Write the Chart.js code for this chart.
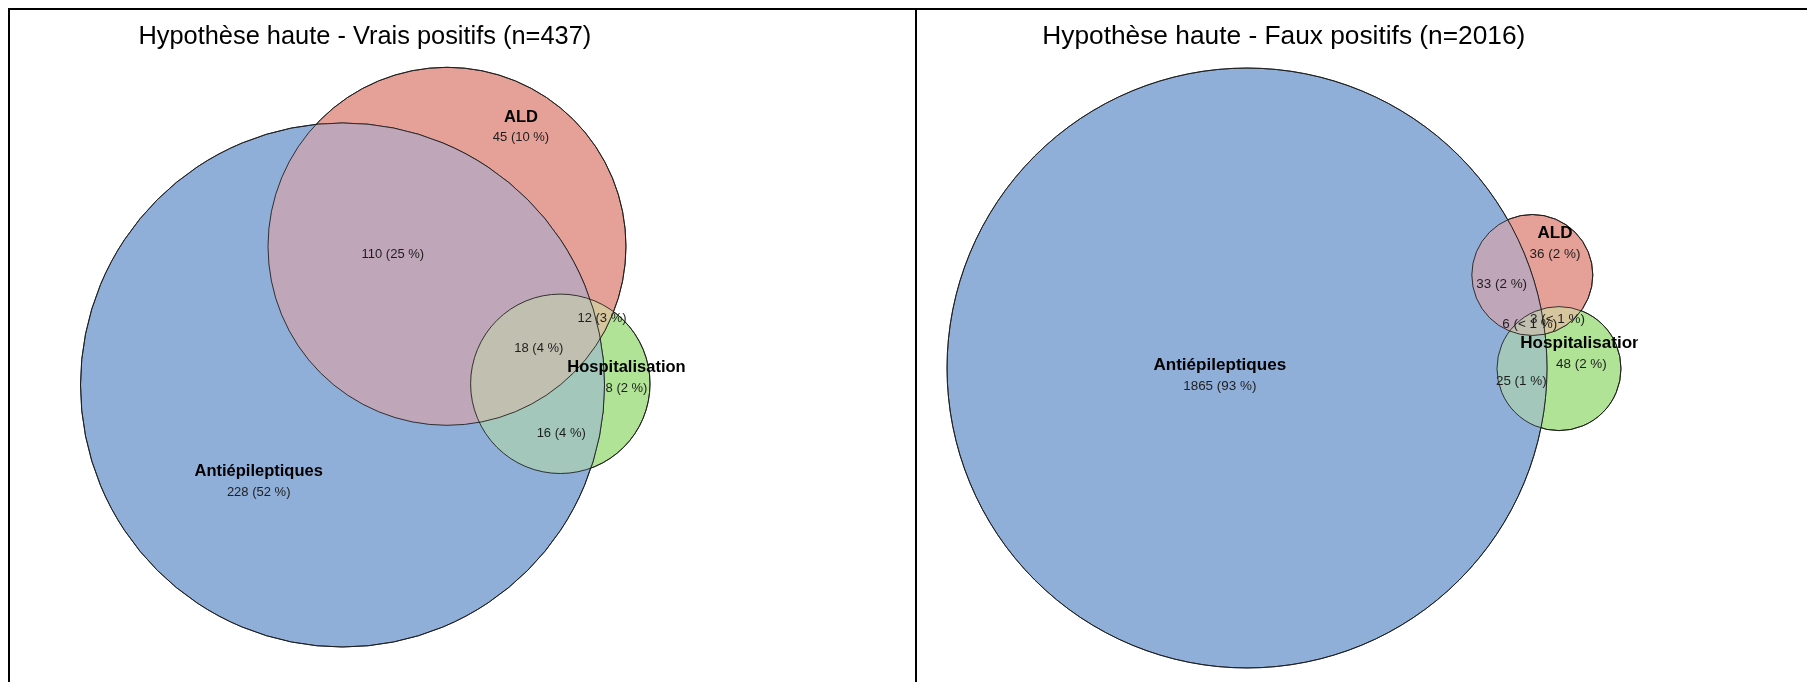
<!DOCTYPE html>
<html>
<head>
<meta charset="utf-8">
<script src="https://cdn.jsdelivr.net/npm/chart.js@4.4.1/dist/chart.umd.min.js"></script>
<style>
  html, body { margin: 0; padding: 0; background: #fff; width: 1807px; height: 682px; overflow: hidden; }
  .rule { position: absolute; background: #000; }
  .panel { position: absolute; }
</style>
</head>
<body>
<div class="rule" style="left:8px;top:8px;width:1799px;height:2px"></div>
<div class="rule" style="left:8px;top:8px;width:2px;height:674px"></div>
<div class="rule" style="left:915px;top:8px;width:2px;height:674px"></div>
<div class="panel" style="left:10px;top:10px;width:905px;height:672px"><canvas id="vp"></canvas></div>
<div class="panel" style="left:917px;top:10px;width:721px;height:672px"><canvas id="fp"></canvas></div>

<script>
// ---------------- DATA ----------------
const setNames = ['Antiépileptiques', 'ALD', 'Hospitalisation'];
// regions: A only, L only, H only, A&L, A&H, L&H, A&L&H
const regionKeys = ['A', 'L', 'H', 'AL', 'AH', 'LH', 'ALH'];
const vpCounts = [228, 45, 8, 110, 16, 12, 18];     // Vrais positifs
const fpCounts = [1865, 36, 48, 33, 25, 3, 6];      // Faux positifs
const titlePrefix = 'Hypothèse haute - ';
const vpName = 'Vrais positifs';
const fpName = 'Faux positifs';

// ---------------- FITTED VENN LAYOUT (data units) ----------------
const vpCircleX = [0, 4.354, 9.075];
const vpCircleY = [0, 5.779, 0.05];
const vpCircleR = [10.917, 7.458, 3.7375];
const vpLabelX = [-3.492, 7.4375, 11.833, 2.096, 9.1125, 10.8125, 8.179];
const vpLabelY = [-4.05, 10.729, 0.302, 5.429, -2.033, 2.779, 1.529];
const vpView = [-13.854, 23.854, -12.375, 15.625];

const fpCircleX = [0, 23.58, 25.785];
const fpCircleY = [0, 7.686, -0.05];
const fpCircleR = [24.79, 5.0, 5.124];
const fpLabelX = [-2.248, 25.455, 27.636, 21.05, 22.67, 25.66, 23.364];
const fpLabelY = [-0.661, 10.289, 1.157, 6.901, -1.091, 4.033, 3.595];
const fpView = [-27.273, 32.314, -25.95, 29.587];

// ---------------- STYLE ----------------
const regionColors = ['#8FAED8', '#E5A098', '#B0E396', '#BFA6B9', '#A3C8BB', '#D5C69E', '#C1BFB0'];
const edgeColor = 'rgba(25,25,25,0.85)';
const FONT = "'Liberation Sans', Arial, Helvetica, sans-serif";

function pctLabel(n, total) {
  const p = Math.round(100 * n / total);
  return n + ' (' + (p < 1 ? '< 1' : p) + ' %)';
}

function radiusPx(chart, r) {
  const s = chart.scales && chart.scales.x;
  if (!s) return 0;
  const v = Math.abs(s.getPixelForValue(r) - s.getPixelForValue(0));
  return isFinite(v) ? v : 0;
}

const vennPlugin = {
  id: 'venn',
  afterDatasetsDraw(chart, args, opts) {
    const ctx = chart.ctx;
    const c = [0, 1, 2].map(i => {
      const el = chart.getDatasetMeta(i).data[0];
      return { x: el.x, y: el.y, r: radiusPx(chart, opts.radii[i]) };
    });
    const path = (k) => { ctx.beginPath(); ctx.arc(c[k].x, c[k].y, c[k].r, 0, Math.PI * 2); };
    const fillClipped = (clips, k, color) => {
      ctx.save();
      clips.forEach(j => { path(j); ctx.clip(); });
      path(k); ctx.fillStyle = color; ctx.fill();
      ctx.restore();
    };
    fillClipped([0], 1, regionColors[3]);
    fillClipped([0], 2, regionColors[4]);
    fillClipped([1], 2, regionColors[5]);
    fillClipped([0, 1], 2, regionColors[6]);
    ctx.save();
    ctx.strokeStyle = edgeColor; ctx.lineWidth = 1;
    [0, 1, 2].forEach(k => { path(k); ctx.stroke(); });
    ctx.restore();

    // labels
    const xs = chart.scales.x, ys = chart.scales.y;
    const total = opts.counts.reduce((a, b) => a + b, 0);
    const fs = opts.fontScale;
    ctx.save();
    ctx.textAlign = 'center';
    ctx.textBaseline = 'middle';
    opts.counts.forEach((n, i) => {
      const px = xs.getPixelForValue(opts.labelX[i]);
      const py = ys.getPixelForValue(opts.labelY[i]);
      if (i < 3) {
        ctx.fillStyle = '#000';
        ctx.font = 'bold ' + (16.5 * fs) + 'px ' + FONT;
        ctx.fillText(setNames[i], px, py - 10.3 * fs);
        ctx.fillStyle = '#1e1e1e';
        ctx.font = (13 * fs) + 'px ' + FONT;
        ctx.fillText(pctLabel(n, total), px, py + 10.3 * fs);
      } else {
        ctx.fillStyle = '#1e1e1e';
        ctx.font = (13 * fs) + 'px ' + FONT;
        ctx.fillText(pctLabel(n, total), px, py);
      }
    });
    // title
    ctx.fillStyle = '#000';
    ctx.font = opts.titleSize + 'px ' + FONT;
    ctx.textBaseline = 'alphabetic';
    ctx.fillText(opts.title, opts.titleX, opts.titleY);
    ctx.restore();
  }
};

function makeVenn(id, counts, cx, cy, cr, lx, ly, view, title, titleX, titleSize, fontScale) {
  const total = counts.reduce((a, b) => a + b, 0);
  return new Chart(document.getElementById(id), {
    type: 'scatter',
    data: {
      datasets: setNames.map((name, i) => ({
        label: name,
        data: [{ x: cx[i], y: cy[i] }],
        pointRadius: (ctx) => radiusPx(ctx.chart, cr[i]),
        pointHoverRadius: (ctx) => radiusPx(ctx.chart, cr[i]),
        pointBackgroundColor: regionColors[i],
        pointBorderColor: edgeColor,
        pointBorderWidth: 1,
        showLine: false,
        clip: false
      }))
    },
    options: {
      responsive: true,
      maintainAspectRatio: false,
      animation: false,
      events: [],
      layout: { padding: 0 },
      scales: {
        x: { type: 'linear', min: view[0], max: view[1], display: false },
        y: { type: 'linear', min: view[2], max: view[3], display: false }
      },
      plugins: {
        legend: { display: false },
        tooltip: { enabled: false },
        title: { display: false },
        venn: {
          counts: counts, labelX: lx, labelY: ly, radii: cr,
          title: title + ' (n=' + total + ')', titleX: titleX, titleY: 34,
          titleSize: titleSize, fontScale: fontScale
        }
      }
    },
    plugins: [vennPlugin]
  });
}

makeVenn('vp', vpCounts, vpCircleX, vpCircleY, vpCircleR, vpLabelX, vpLabelY, vpView, titlePrefix + vpName, 354.8, 25.4, 1.0);
makeVenn('fp', fpCounts, fpCircleX, fpCircleY, fpCircleR, fpLabelX, fpLabelY, fpView, titlePrefix + fpName, 366.8, 26.3, 1.035);
</script>
</body>
</html>
